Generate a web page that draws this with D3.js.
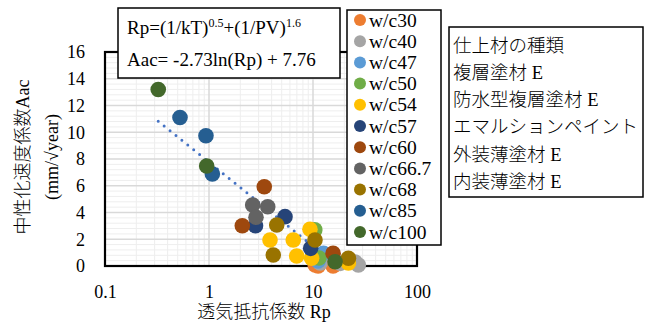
<!DOCTYPE html>
<html>
<head>
<meta charset="utf-8">
<script src="https://cdn.jsdelivr.net/npm/d3@7"></script>
<style>
  body { margin: 0; background: #fff; }
  svg text { font-family: "Liberation Serif", "Times New Roman", Tinos, "DejaVu Serif", "Noto Sans CJK JP", serif; fill: #000; }
  svg text.jp { font-weight: 300; }
</style>
</head>
<body>
<div id="chart"></div>
<script>
// series (w/c ratio) and their points: Rp and Aac
var seriesNames = ['w/c30', 'w/c40', 'w/c47', 'w/c50', 'w/c54', 'w/c57', 'w/c60', 'w/c66.7', 'w/c68', 'w/c85', 'w/c100'];
var rpData = [
  [10.5, 11.2, 15.6, 16.7],
  [11.7, 18.3, 25.4, 27.3],
  [12.6, 11.2],
  [10.4, 11.4],
  [3.86, 6.46, 6.97, 9.35, 9.7, 21.9],
  [5.38, 2.8, 9.5],
  [3.4, 2.09, 15.6],
  [2.63, 3.67, 2.83],
  [4.48, 4.15, 10.45, 21.9],
  [0.526, 0.935, 1.077],
  [0.325, 0.95, 16.3]
];
var aacData = [
  [0.07, 0, 0, 0.15],
  [0.22, 0.2, 0.3, 0.07],
  [0.95, 0.37],
  [2.7, 0.6],
  [1.94, 1.94, 0.75, 2.74, 0.58, 0.22],
  [3.69, 3.01, 1.32],
  [5.93, 3.01, 0.95],
  [4.56, 4.43, 3.64],
  [3.07, 0.82, 1.94, 0.58],
  [11.1, 9.74, 6.88],
  [13.2, 7.48, 0.32]
];
var seriesColors = ['#ED7D31', '#A5A5A5', '#5B9BD5', '#70AD47', '#FFC000', '#264478', '#9E480E', '#636363', '#997300', '#255E91', '#43682B'];

var xTicks = [0.1, 1, 10, 100];
var xTickLabels = ['0.1', '1', '10', '100'];
var yTicks = [0, 2, 4, 6, 8, 10, 12, 14, 16];

// trend line Aac = a ln(Rp) + b
var trendA = -2.73, trendB = 7.76;
var trendRange = [0.325, 27.3];

var finishTitle = '仕上材の種類';
var finishTypes = ['複層塗材 E', '防水型複層塗材 E', 'エマルションペイント', '外装薄塗材 E', '内装薄塗材 E'];

var W = 653, H = 324;
var plot = { left: 105, top: 52, right: 417, bottom: 266 };
var serif = '"Liberation Serif", "Times New Roman", Tinos, "DejaVu Serif", "Noto Sans CJK JP", serif';

var svg = d3.select('#chart').append('svg')
  .attr('width', W)
  .attr('height', H);

var x = d3.scaleLog().domain([0.1, 100]).range([plot.left, plot.right]);
var y = d3.scaleLinear().domain([0, 16]).range([plot.bottom, plot.top]);

// minor grid
var minorX = [];
[0.1, 1, 10].forEach(function(d) {
  for (var k = 2; k <= 9; k++) minorX.push(d * k);
});
var minorY = d3.range(0, 16.01, 0.4).filter(function(v) { return Math.abs(v / 2 - Math.round(v / 2)) > 0.01; });

var grid = svg.append('g');
grid.selectAll('.mx').data(minorX).enter().append('line')
  .attr('x1', function(d) { return x(d); })
  .attr('x2', function(d) { return x(d); })
  .attr('y1', plot.top).attr('y2', plot.bottom)
  .attr('stroke', '#eeeeee').attr('stroke-width', 1);
grid.selectAll('.my').data(minorY).enter().append('line')
  .attr('y1', function(d) { return y(d); })
  .attr('y2', function(d) { return y(d); })
  .attr('x1', plot.left).attr('x2', plot.right)
  .attr('stroke', '#eeeeee').attr('stroke-width', 1);
grid.selectAll('.Mx').data(xTicks).enter().append('line')
  .attr('x1', function(d) { return x(d); })
  .attr('x2', function(d) { return x(d); })
  .attr('y1', plot.top).attr('y2', plot.bottom)
  .attr('stroke', '#d9d9d9').attr('stroke-width', 1.5);
grid.selectAll('.My').data(yTicks).enter().append('line')
  .attr('y1', function(d) { return y(d); })
  .attr('y2', function(d) { return y(d); })
  .attr('x1', plot.left).attr('x2', plot.right)
  .attr('stroke', '#d9d9d9').attr('stroke-width', 1.5);

// axes (labels only, frame drawn separately)
var xAxis = svg.append('g')
  .attr('transform', 'translate(0,' + (plot.bottom + 16) + ')')
  .call(d3.axisBottom(x).tickValues(xTicks).tickFormat(function(d, i) { return xTickLabels[i]; }).tickSize(0));
xAxis.attr('font-family', serif);
xAxis.select('.domain').remove();
xAxis.selectAll('text').attr('font-size', 18);

var yAxis = svg.append('g')
  .attr('transform', 'translate(' + (plot.left - 17) + ',0)')
  .call(d3.axisLeft(y).tickValues(yTicks).tickSize(0));
yAxis.attr('font-family', serif);
yAxis.select('.domain').remove();
yAxis.selectAll('text').attr('font-size', 18);

// plot frame
svg.append('rect')
  .attr('x', plot.left).attr('y', plot.top)
  .attr('width', plot.right - plot.left).attr('height', plot.bottom - plot.top)
  .attr('fill', 'none').attr('stroke', '#000').attr('stroke-width', 2.2);

// trend line, clipped to plot area
svg.append('clipPath').attr('id', 'clip').append('rect')
  .attr('x', plot.left).attr('y', plot.top)
  .attr('width', plot.right - plot.left).attr('height', plot.bottom - plot.top);
var trendPts = d3.range(0, 61).map(function(i) {
  var lx = Math.log(trendRange[0]) + (Math.log(trendRange[1]) - Math.log(trendRange[0])) * i / 60;
  return [Math.exp(lx), trendA * lx + trendB];
});
svg.append('path')
  .datum(trendPts)
  .attr('clip-path', 'url(#clip)')
  .attr('d', d3.line().x(function(d) { return x(d[0]); }).y(function(d) { return y(d[1]); }))
  .attr('fill', 'none')
  .attr('stroke', '#4472C4')
  .attr('stroke-width', 3)
  .attr('stroke-linecap', 'round')
  .attr('stroke-dasharray', '0 7.6');

// points
seriesNames.forEach(function(name, s) {
  var pts = rpData[s].map(function(rp, i) { return [rp, aacData[s][i]]; });
  svg.append('g').selectAll('circle').data(pts).enter().append('circle')
    .attr('cx', function(d) { return x(d[0]); })
    .attr('cy', function(d) { return y(d[1]); })
    .attr('r', 7.8)
    .attr('fill', seriesColors[s]);
});

// axis titles
svg.append('text').attr('class', 'jp')
  .attr('x', (plot.left + plot.right) / 2 + 3).attr('y', 318)
  .attr('text-anchor', 'middle').attr('font-size', 18)
  .text('透気抵抗係数 Rp');

var yt = svg.append('text').attr('class', 'jp')
  .attr('transform', 'translate(23,157) rotate(-90)')
  .attr('text-anchor', 'middle').attr('font-size', 18);
yt.append('tspan').attr('x', 0).attr('dy', 6).text('中性化速度係数Aac');
yt.append('tspan').attr('x', 0).attr('dy', 29).text('(mm/√year)');

// equation box
svg.append('rect')
  .attr('x', 118).attr('y', 8).attr('width', 222).attr('height', 70)
  .attr('fill', '#fff').attr('stroke', '#000').attr('stroke-width', 1.5);
var eq1 = svg.append('text').attr('x', 127).attr('y', 34).attr('font-size', 19);
eq1.append('tspan').text('Rp=(1/kT)');
eq1.append('tspan').attr('font-size', 12).attr('dy', -7).text('0.5');
eq1.append('tspan').attr('dy', 7).text('+(1/PV)');
eq1.append('tspan').attr('font-size', 12).attr('dy', -7).text('1.6');
svg.append('text').attr('x', 127).attr('y', 66).attr('font-size', 19)
  .text('Aac= -2.73ln(Rp) + 7.76');

// series legend
svg.append('rect')
  .attr('x', 347).attr('y', 10).attr('width', 94).attr('height', 235)
  .attr('fill', '#fff').attr('stroke', '#000').attr('stroke-width', 1.5);
var lg = svg.append('g').selectAll('g').data(seriesNames).enter().append('g')
  .attr('transform', function(d, i) { return 'translate(360,' + (20 + i * 21.2) + ')'; });
lg.append('circle').attr('r', 6).attr('fill', function(d, i) { return seriesColors[i]; });
lg.append('text').attr('x', 9).attr('dy', 6.5).attr('font-size', 19.5).text(function(d) { return d; });

// finish type box
svg.append('rect')
  .attr('x', 449).attr('y', 27).attr('width', 194).attr('height', 170)
  .attr('fill', '#fff').attr('stroke', '#000').attr('stroke-width', 1.5);
svg.append('g').selectAll('text').data([finishTitle].concat(finishTypes)).enter().append('text')
  .attr('class', 'jp')
  .attr('x', 453)
  .attr('y', function(d, i) { return 45 + i * 27.3; })
  .attr('dy', 6.5)
  .attr('font-size', 18.5)
  .text(function(d) { return d; });
</script>
</body>
</html>
